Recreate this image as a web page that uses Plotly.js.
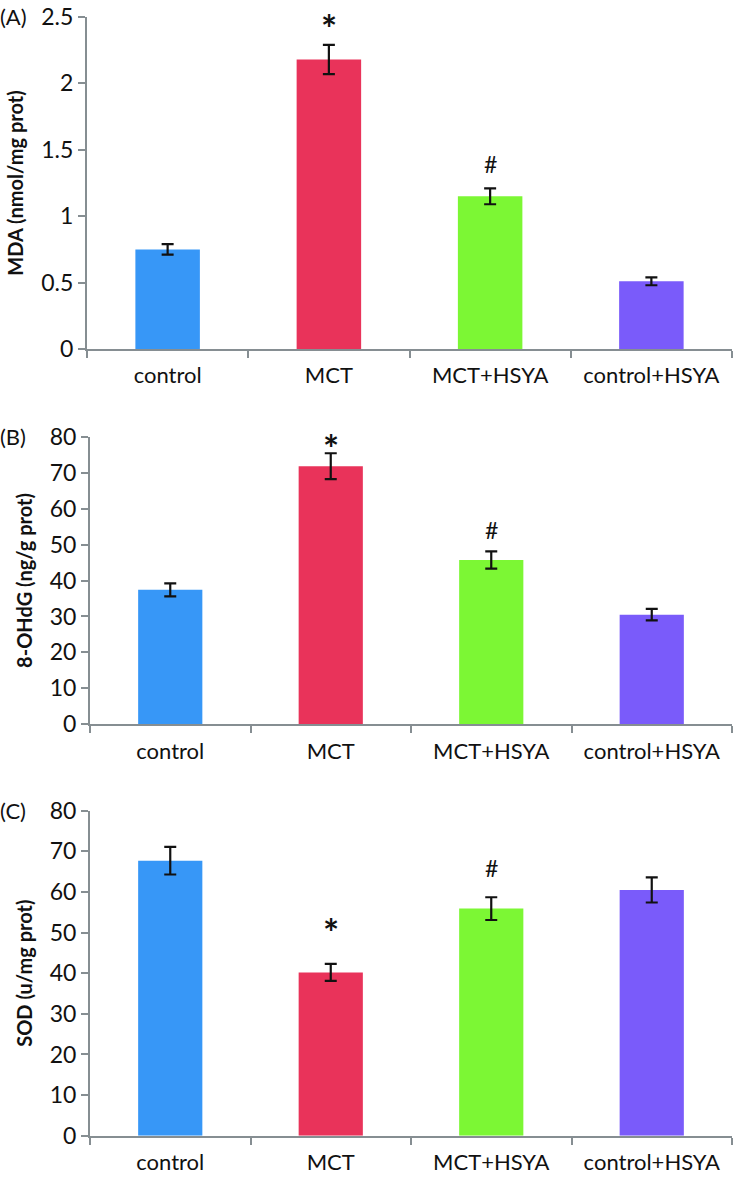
<!DOCTYPE html>
<html>
<head>
<meta charset="utf-8">
<script src="https://cdn.plot.ly/plotly-3.0.1.min.js"></script>
<style>html,body{margin:0;padding:0;background:#fff;}#chart{width:734px;height:1182px;}</style>
</head>
<body>
<div id="chart"></div>
<script>
const categories = ['control', 'MCT', 'MCT+HSYA', 'control+HSYA'];
const barColors = ['#3797F7', '#E9335A', '#7CF734', '#7A5BFA'];

const mdaValues = [0.75, 2.18, 1.15, 0.51];
const mdaErrors = [0.04, 0.11, 0.06, 0.03];
const mdaMarks = ['', '*', '#', ''];

const ohdgValues = [37.4, 71.8, 45.7, 30.5];
const ohdgErrors = [1.8, 3.6, 2.4, 1.6];
const ohdgMarks = ['', '*', '#', ''];

const sodValues = [67.7, 40.2, 55.9, 60.5];
const sodErrors = [3.4, 2.1, 2.8, 3.1];
const sodMarks = ['', '*', '#', ''];

const panelLabels = ['(A)', '(B)', '(C)'];
const yTitles = ['MDA (nmol/mg prot)', '8-OHdG (ng/g prot)', 'SOD (u/mg prot)'];
const yRanges = [[0, 2.5], [0, 80], [0, 80]];
const yDtick = [0.5, 10, 10];

const W = 734, H = 1182;
const FONT = 'Lato, "Open Sans", sans-serif';
const AXC = '#868E92';

const panels = [
  {vals: mdaValues, errs: mdaErrors, marks: mdaMarks, left: 87, top: 17, bottom: 349, shifts: {'*': 17, '#': 24}},
  {vals: ohdgValues, errs: ohdgErrors, marks: ohdgMarks, left: 90, top: 436.7, bottom: 724.3, shifts: {'*': 5, '#': 21}},
  {vals: sodValues, errs: sodErrors, marks: sodMarks, left: 90, top: 810.7, bottom: 1135.7, shifts: {'*': 32, '#': 29}}
];

const traces = [];
const layout = {
  width: W, height: H,
  margin: {l: 0, r: 0, t: 0, b: 0},
  paper_bgcolor: '#fff', plot_bgcolor: '#fff',
  showlegend: false,
  font: {family: FONT, size: 22, color: '#111'},
  annotations: []
};

panels.forEach((p, i) => {
  const n = i === 0 ? '' : String(i + 1);
  const xa = 'x' + n, ya = 'y' + n;
  traces.push({
    type: 'bar',
    x: categories,
    y: p.vals,
    xaxis: xa, yaxis: ya,
    width: 0.4,
    marker: {color: barColors, line: {width: 0}},
    error_y: {type: 'data', array: p.errs, visible: true, color: '#111', thickness: 2.2, width: 6}
  });
  layout['xaxis' + n] = {
    domain: [p.left / W, 732 / W],
    anchor: ya,
    type: 'category',
    range: [-0.5, 3.5],
    showline: true, linecolor: AXC, linewidth: 2,
    ticks: 'outside', tickson: 'boundaries', ticklen: 7, tickcolor: AXC, tickwidth: 2,
    ticklabelstandoff: 6,
    ticklabeloverflow: 'allow',
    showgrid: false, zeroline: false,
    tickfont: {family: FONT, size: 22, color: '#111'},
    fixedrange: true
  };
  layout['yaxis' + n] = {
    domain: [1 - p.bottom / H, 1 - p.top / H],
    anchor: xa,
    range: yRanges[i],
    dtick: yDtick[i], tick0: 0,
    showline: true, linecolor: AXC, linewidth: 2,
    ticks: 'outside', ticklen: 7, tickcolor: AXC, tickwidth: 2,
    ticklabeloverflow: 'allow',
    showgrid: false, zeroline: false,
    tickfont: {family: FONT, size: 23, color: '#111'},
    title: {text: '<b>' + yTitles[i] + '</b>', font: {family: FONT, size: 20, color: '#111'}, standoff: 12},
    fixedrange: true
  };
  layout.annotations.push({
    xref: 'paper', yref: 'paper', x: -0.003, y: 1 - p.top / H,
    xanchor: 'left', yanchor: 'middle', showarrow: false,
    text: panelLabels[i], font: {family: FONT, size: 22, color: '#111'}
  });
  p.marks.forEach((m, j) => {
    if (!m) return;
    layout.annotations.push({
      xref: xa, yref: ya, x: categories[j], y: p.vals[j] + p.errs[j],
      xanchor: 'center', yanchor: 'middle', showarrow: false,
      yshift: p.shifts[m],
      text: m === '*' ? '<b>*</b>' : m,
      font: {family: FONT, size: m === '*' ? 38 : 23, color: '#111'}
    });
  });
});

Plotly.newPlot('chart', traces, layout, {displayModeBar: false, staticPlot: true});
</script>
</body>
</html>
